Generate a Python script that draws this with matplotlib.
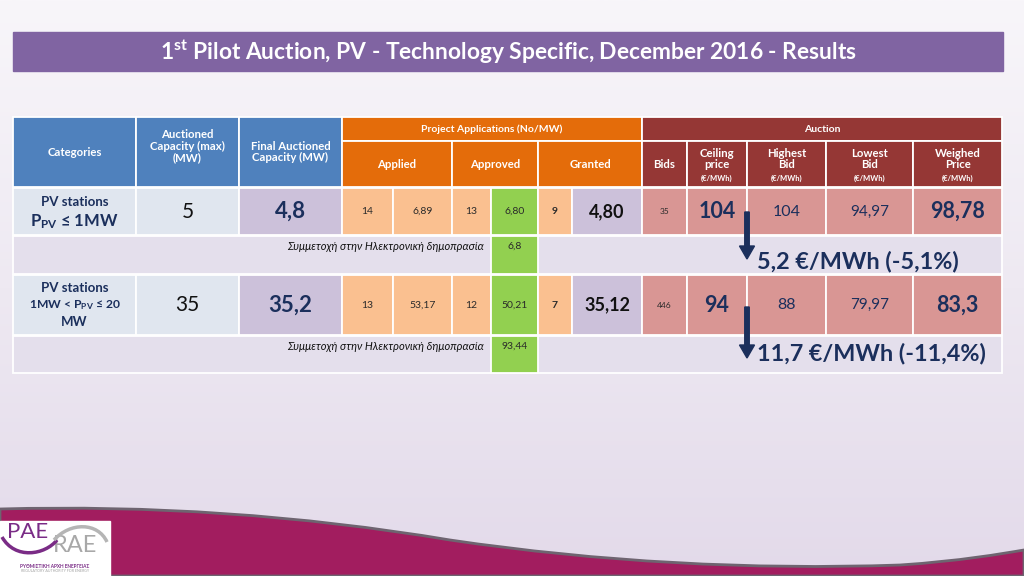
import numpy as np
import matplotlib
matplotlib.use('Agg')
from matplotlib import pyplot as plt
from matplotlib.patches import Rectangle, PathPatch, FancyArrow
from matplotlib.path import Path
from matplotlib.colors import LinearSegmentedColormap

plt.rcParams['font.family'] = ['Lato', 'DejaVu Sans']
plt.rcParams['mathtext.fontset'] = 'custom'
plt.rcParams['mathtext.rm'] = 'Lato'
plt.rcParams['mathtext.bf'] = 'Lato:bold'

# ---- table values ----
categories = [["PV stations", r"$\mathbf{P_{PV}}$ ≤ 1MW"],
              ["PV stations", r"1MW < $\mathbf{P_{PV}}$ ≤ 20", "MW"]]
auctioned_cap = ["5", "35"]
final_cap = ["4,8", "35,2"]
applied_no = ["14", "13"]
applied_mw = ["6,89", "53,17"]
approved_no = ["13", "12"]
approved_mw = ["6,80", "50,21"]
granted_no = ["9", "7"]
granted_mw = ["4,80", "35,12"]
bids = ["35", "446"]
ceiling_price = ["104", "94"]
highest_bid = ["104", "88"]
lowest_bid = ["94,97", "79,97"]
weighed_price = ["98,78", "83,3"]
participation = ["6,8", "93,44"]
reduction = ["5,2 €/MWh (-5,1%)", "11,7 €/MWh (-11,4%)"]

title = r"1$^{\mathbf{st}}$ Pilot Auction, PV - Technology Specific, December 2016 - Results"
participation_label = "Συμμετοχή στην Ηλεκτρονική δημοπρασία"

# ---- layout (pixels) ----
col_edges = [13, 136, 239, 342, 393, 452, 491, 538, 572, 642, 687, 747, 826, 913, 1002]
hdr1 = (117, 141)
hdr2 = (141, 187)
data_rows = [(188, 235), (275, 335)]
sub_rows = [(236, 274), (336, 373)]

BLUE = '#4F81BD'
ORANGE = '#E46C0A'
DRED = '#953735'
LBLUE = '#E0E6EF'
LAV = '#CCC1DA'
PEACH = '#FAC090'
GREEN = '#92D050'
PINK = '#D99694'
SUB = '#E4DFEC'
NAVY = '#1B2F5C'
DARK = '#2A2A2A'
PURPLE = '#7A2C86'

fig = plt.figure(figsize=(10.24, 5.76), dpi=100)
ax = fig.add_axes([0, 0, 1, 1])
ax.set_xlim(0, 1024)
ax.set_ylim(576, 0)
ax.axis('off')

# background gradient
bg = LinearSegmentedColormap.from_list('bg', ['#F8F6FA', '#EEE9F2', '#E3DAEA'])
grad = np.linspace(0, 1, 256).reshape(-1, 1)
ax.imshow(grad, cmap=bg, extent=[0, 1024, 576, 0], aspect='auto', zorder=0)

# title bar
ax.add_patch(Rectangle((13, 32), 990, 39, color='#8064A2', zorder=1))
ax.text(508, 52, title, color='white', fontsize=16.4, fontweight='bold',
        ha='center', va='center', zorder=2)


def cell(x0, x1, y0, y1, color, edge='white'):
    ax.add_patch(Rectangle((x0, y0), x1 - x0, y1 - y0, facecolor=color,
                           edgecolor=edge, linewidth=1.3, zorder=2))


def put(x, y, s, size, color=DARK, weight='normal', style='normal', ha='center', ls=1.05):
    ax.text(x, y, s, fontsize=size, color=color, fontweight=weight, fontstyle=style,
            ha=ha, va='center', linespacing=ls, zorder=4)


c = col_edges
mid = [(c[i] + c[i + 1]) / 2 for i in range(len(c) - 1)]

# header cells
for i in range(3):
    cell(c[i], c[i + 1], hdr1[0], hdr2[1], BLUE)
cell(c[3], c[9], hdr1[0], hdr1[1], ORANGE)
cell(c[3], c[5], hdr2[0], hdr2[1], ORANGE)
cell(c[5], c[7], hdr2[0], hdr2[1], ORANGE)
cell(c[7], c[9], hdr2[0], hdr2[1], ORANGE)
cell(c[9], c[14], hdr1[0], hdr1[1], DRED)
for i in range(9, 14):
    cell(c[i], c[i + 1], hdr2[0], hdr2[1], DRED)

hsz = 8.2
put(mid[0], 152, "Categories", hsz, 'white', 'bold')
put(mid[1], 146, "Auctioned\nCapacity (max)\n(MW)", hsz, 'white', 'bold')
put(mid[2], 152, "Final Auctioned\nCapacity (MW)", hsz, 'white', 'bold')
put((c[3] + c[9]) / 2, 129, "Project Applications (No/MW)", 7.5, 'white', 'bold')
put((c[3] + c[5]) / 2, 165, "Applied", hsz, 'white', 'bold')
put((c[5] + c[7]) / 2, 165, "Approved", hsz, 'white', 'bold')
put((c[7] + c[9]) / 2, 165, "Granted", hsz, 'white', 'bold')
put((c[9] + c[14]) / 2, 129, "Auction", 7.5, 'white', 'bold')
put(mid[9], 165, "Bids", hsz, 'white', 'bold')
for i, lab in zip(range(10, 14), ["Ceiling\nprice", "Highest\nBid", "Lowest\nBid", "Weighed\nPrice"]):
    put(mid[i], 159, lab, hsz, 'white', 'bold', ls=1.0)
    put(mid[i], 178, "(€/MWh)", 5.5, 'white', 'bold')

# data rows
fills = [LBLUE, LBLUE, LAV, PEACH, PEACH, PEACH, GREEN, PEACH, LAV,
         PINK, PINK, PINK, PINK, PINK]
cat_sizes = [[9.5, 12], [9.5, 8.7, 9.5]]
for r, (y0, y1) in enumerate(data_rows):
    for i in range(14):
        cell(c[i], c[i + 1], y0, y1, fills[i])
    yc = (y0 + y1) / 2
    lines = categories[r]
    step = 20 if len(lines) == 2 else 17.5
    for k, ln in enumerate(lines):
        yy = yc + (k - (len(lines) - 1) / 2) * step
        put(mid[0], yy, ln, cat_sizes[r][k], NAVY, 'bold')
    put(mid[1], yc, auctioned_cap[r], 15, '#111111')
    put(mid[2], yc, final_cap[r], 16, NAVY, 'bold')
    put(mid[3], yc, applied_no[r], 7.5)
    put(mid[4], yc, applied_mw[r], 7.5)
    put(mid[5], yc, approved_no[r], 7.5)
    put(mid[6], yc, approved_mw[r], 7.5)
    put(mid[7], yc, granted_no[r], 7.5, weight='bold')
    put(mid[8], yc, granted_mw[r], 13, '#111111', 'bold')
    put(mid[9], yc, bids[r], 6)
    put(mid[10], yc, ceiling_price[r], 15.5, NAVY, 'bold')
    put(mid[11], yc, highest_bid[r], 11.5, NAVY)
    put(mid[12], yc, lowest_bid[r], 11, NAVY)
    put(mid[13], yc, weighed_price[r], 15.5, NAVY, 'bold')

# participation rows
for r, (y0, y1) in enumerate(sub_rows):
    cell(c[0], c[14], y0, y1, SUB)
    cell(c[6], c[7], y0, y1, GREEN)
    ty = y0 + 10
    put(484, ty, participation_label, 8, '#111111', style='italic', ha='right')
    put(mid[6], ty, participation[r], 7.5)

# reduction arrows and labels
arrow_spans = [(212, 259), (307, 358)]
label_y = [262, 353]
for r in range(2):
    a0, a1 = arrow_spans[r]
    ax.add_patch(FancyArrow(747, a0, 0, a1 - a0, width=4.5, head_width=15,
                            head_length=13, length_includes_head=True,
                            color=NAVY, zorder=5))
    put(757, label_y[r], reduction[r], 16.8, NAVY, 'bold', ha='left')

# bottom wave
verts = [(0, 509), (150, 505), (300, 515), (450, 540),
         (600, 562), (750, 570), (900, 565),
         (960, 561), (1000, 554), (1024, 550),
         (1024, 576), (0, 576), (0, 509)]
codes = [Path.MOVETO, Path.CURVE4, Path.CURVE4, Path.CURVE4,
         Path.CURVE4, Path.CURVE4, Path.CURVE4,
         Path.CURVE4, Path.CURVE4, Path.CURVE4,
         Path.LINETO, Path.LINETO, Path.CLOSEPOLY]
ax.add_patch(PathPatch(Path(verts, codes), facecolor='#A21D5F', edgecolor='#6E6470',
                       linewidth=2, zorder=3))

# logo
ax.add_patch(Rectangle((0, 521), 110, 55, color='white', zorder=6))
ax.text(7, 532, "PAE", fontsize=16, color=PURPLE, ha='left', va='center', zorder=7)
ax.text(53, 545, "RAE", fontsize=17, color='#A8A8A8', ha='left', va='center', zorder=7)
swoosh = Path([(2, 537), (15, 560), (45, 555), (57, 540)],
              [Path.MOVETO, Path.CURVE4, Path.CURVE4, Path.CURVE4])
ax.add_patch(PathPatch(swoosh, facecolor='none', edgecolor=PURPLE, linewidth=2.5, zorder=7))
arc = Path([(54, 540), (70, 522), (98, 522), (107, 542)],
           [Path.MOVETO, Path.CURVE4, Path.CURVE4, Path.CURVE4])
ax.add_patch(PathPatch(arc, facecolor='none', edgecolor='#B5B5B5', linewidth=2.5, zorder=7))
ax.text(55, 566, "ΡΥΘΜΙΣΤΙΚΗ ΑΡΧΗ ΕΝΕΡΓΕΙΑΣ", fontsize=3.4, color=PURPLE, ha='center',
        va='center', fontweight='bold', zorder=7)
ax.text(55, 571, "REGULATORY AUTHORITY FOR ENERGY", fontsize=2.6, color='#A0A0A0', ha='center',
        va='center', zorder=7)

fig.savefig('out.png', dpi=100)
